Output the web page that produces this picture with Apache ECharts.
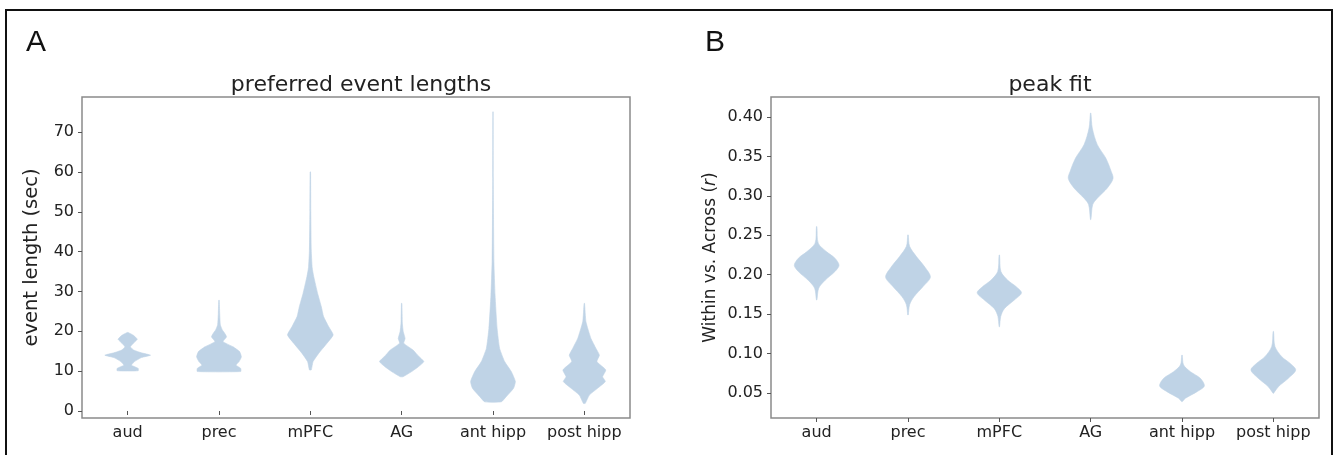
<!DOCTYPE html>
<html>
<head>
<meta charset="utf-8">
<script src="https://cdn.jsdelivr.net/npm/echarts@6/dist/echarts.min.js"></script>
<style>
  html, body { margin: 0; padding: 0; background: #fff; }
  #chart { width: 1334px; height: 455px; }
</style>
</head>
<body>
<div id="chart"></div>
<script>
// ---------- data ----------
const categories = ['aud', 'prec', 'mPFC', 'AG', 'ant hipp', 'post hipp'];

const lengthTicks = [0, 10, 20, 30, 40, 50, 60, 70];
const fitTicks = [0.05, 0.10, 0.15, 0.20, 0.25, 0.30, 0.35, 0.40];

// violin profiles: [value, relative density (1 = widest)] from top to bottom
const lenAud = [[19.7, 0.02], [19.0, 0.25], [18.0, 0.42], [17.0, 0.25], [16.1, 0.12], [15.3, 0.26],
  [14.6, 0.6], [14.0, 1.0], [13.4, 0.6], [12.4, 0.3], [11.5, 0.17], [10.7, 0.46], [10.1, 0.46]];
const lenPrec = [[27.8, 0.01], [24.5, 0.03], [21.6, 0.06], [20.3, 0.15], [19.5, 0.25], [18.6, 0.33],
  [17.4, 0.18], [16.1, 0.62], [14.9, 0.9], [13.6, 0.98], [12.4, 0.88], [11.5, 0.75], [10.7, 0.95],
  [9.9, 0.95]];
const lenMPFC = [[60.0, 0.01], [50.0, 0.02], [40.4, 0.04], [36.0, 0.08], [33.7, 0.15], [29.5, 0.32],
  [26.2, 0.48], [23.7, 0.58], [21.2, 0.8], [19.1, 1.0], [17.0, 0.73], [14.5, 0.37], [12.4, 0.12],
  [10.3, 0.04]];
const lenAG = [[27.0, 0.01], [22.0, 0.03], [19.9, 0.07], [18.2, 0.15], [17.0, 0.09], [15.3, 0.5],
  [14.0, 0.7], [12.4, 0.97], [11.1, 0.73], [9.9, 0.44], [8.6, 0.06]];
const lenAntHipp = [[75.1, 0.005], [58.4, 0.01], [37.5, 0.04], [29.1, 0.09], [20.7, 0.18],
  [15.7, 0.29], [12.4, 0.51], [9.9, 0.8], [7.4, 0.98], [5.7, 0.9], [3.6, 0.58], [2.3, 0.36]];
const lenPostHipp = [[27.0, 0.01], [22.4, 0.07], [18.2, 0.29], [15.7, 0.51], [14.0, 0.66],
  [12.4, 0.55], [10.3, 0.94], [8.6, 0.8], [7.4, 0.92], [5.7, 0.58], [4.0, 0.22], [1.9, 0.04]];

const fitAud = [[0.261, 0.01], [0.240, 0.07], [0.229, 0.44], [0.221, 0.8], [0.212, 0.98],
  [0.204, 0.8], [0.193, 0.37], [0.183, 0.09], [0.168, 0.01]];
const fitPrec = [[0.2505, 0.01], [0.236, 0.07], [0.223, 0.37], [0.210, 0.73], [0.197, 0.98],
  [0.185, 0.66], [0.172, 0.26], [0.162, 0.07], [0.149, 0.01]];
const fitMPFC = [[0.225, 0.01], [0.204, 0.07], [0.193, 0.37], [0.185, 0.73], [0.177, 0.97],
  [0.168, 0.66], [0.157, 0.22], [0.147, 0.06], [0.134, 0.01]];
const fitAG = [[0.405, 0.01], [0.386, 0.07], [0.365, 0.29], [0.348, 0.66], [0.331, 0.9],
  [0.322, 0.98], [0.310, 0.73], [0.297, 0.29], [0.289, 0.09], [0.270, 0.01]];
const fitAntHipp = [[0.098, 0.01], [0.0855, 0.07], [0.077, 0.37], [0.0687, 0.8], [0.0589, 0.98],
  [0.0517, 0.66], [0.0433, 0.15], [0.039, 0.01]];
const fitPostHipp = [[0.128, 0.01], [0.109, 0.07], [0.096, 0.37], [0.0877, 0.73], [0.0792, 0.98],
  [0.0687, 0.66], [0.058, 0.22], [0.0496, 0.01]];

const lengthViolins = [lenAud, lenPrec, lenMPFC, lenAG, lenAntHipp, lenPostHipp];
const fitViolins = [fitAud, fitPrec, fitMPFC, fitAG, fitAntHipp, fitPostHipp];

// ---------- chart ----------
const FONT = '"DejaVu Sans", sans-serif';
const violinColor = '#bfd3e6';

function violinRenderer(profiles, smooth) {
  return function (params, api) {
    const idx = api.value(0);
    const prof = profiles[idx];
    const halfW = api.size([1, 0])[0] * 0.25;
    const right = [], left = [];
    for (const [v, d] of prof) {
      const p = api.coord([idx, v]);
      right.push([p[0] + d * halfW, p[1]]);
      left.push([p[0] - d * halfW, p[1]]);
    }
    const pts = right.concat(left.reverse());
    return {
      type: 'polygon',
      shape: { points: pts, smooth: smooth },
      style: { fill: violinColor, stroke: violinColor, lineWidth: 0.6 }
    };
  };
}

const axisLabelStyle = { color: '#222', fontFamily: FONT, fontSize: 16 };
const gridBorder = '#8a8a8a';

function makeXAxis(gi) {
  return {
    type: 'category', gridIndex: gi, data: categories, boundaryGap: true,
    axisLine: { show: false },
    axisTick: { show: true, alignWithLabel: true, length: 4, lineStyle: { color: '#555' } },
    axisLabel: Object.assign({ margin: 7, interval: 0 }, axisLabelStyle),
    splitLine: { show: false }
  };
}

const option = {
  animation: false,
  backgroundColor: '#fff',
  title: [
    { text: 'preferred event lengths', left: 356, top: 69, textAlign: 'center',
      textStyle: { fontFamily: FONT, fontSize: 22, fontWeight: 'normal', color: '#222' } },
    { text: 'peak fit', left: 1045, top: 69, textAlign: 'center',
      textStyle: { fontFamily: FONT, fontSize: 22, fontWeight: 'normal', color: '#222' } }
  ],
  grid: [
    { left: 82, top: 97, width: 548, height: 321, show: true, borderColor: gridBorder, borderWidth: 1.5, backgroundColor: 'transparent' },
    { left: 771, top: 97, width: 548, height: 321, show: true, borderColor: gridBorder, borderWidth: 1.5, backgroundColor: 'transparent' }
  ],
  xAxis: [makeXAxis(0), makeXAxis(1)],
  yAxis: [
    {
      type: 'value', gridIndex: 0, min: -1.76, max: 78.8,
      name: 'event length (sec)', nameLocation: 'middle', nameGap: 40, nameRotate: 90,
      nameTextStyle: { fontFamily: FONT, fontSize: 19.5, color: '#222' },
      axisLine: { show: false },
      axisTick: { show: true, length: 4, lineStyle: { color: '#555' }, customValues: lengthTicks },
      axisLabel: Object.assign({ margin: 8, customValues: lengthTicks }, axisLabelStyle),
      splitLine: { show: false }
    },
    {
      type: 'value', gridIndex: 1, min: 0.0183, max: 0.4254,
      name: 'Within vs. Across ({i|r})', nameLocation: 'middle', nameGap: 52, nameRotate: 90,
      nameTextStyle: { fontFamily: FONT, fontSize: 17, color: '#222',
        rich: { i: { fontFamily: FONT, fontSize: 17, fontStyle: 'italic', color: '#222' } } },
      axisLine: { show: false },
      axisTick: { show: true, length: 4, lineStyle: { color: '#555' }, customValues: fitTicks },
      axisLabel: Object.assign({ margin: 8, customValues: fitTicks, formatter: v => v.toFixed(2) }, axisLabelStyle),
      splitLine: { show: false }
    }
  ],
  series: [
    { type: 'custom', xAxisIndex: 0, yAxisIndex: 0, renderItem: violinRenderer(lengthViolins, 0.15),
      data: categories.map((c, i) => [i]), encode: { x: 0 }, clip: true },
    { type: 'custom', xAxisIndex: 1, yAxisIndex: 1, renderItem: violinRenderer(fitViolins, 0.3),
      data: categories.map((c, i) => [i]), encode: { x: 0 }, clip: true }
  ],
  graphic: [
    { type: 'rect', shape: { x: 6, y: 10, width: 1326, height: 470 },
      style: { fill: 'none', stroke: '#111', lineWidth: 2 }, silent: true },
    { type: 'text', left: 26, top: 28, style: { text: 'A', font: '30px "Liberation Sans", Arial, sans-serif', fill: '#111' } },
    { type: 'text', left: 705, top: 28, style: { text: 'B', font: '30px "Liberation Sans", Arial, sans-serif', fill: '#111' } }
  ]
};

const chart = echarts.init(document.getElementById('chart'), null, { renderer: 'canvas' });
chart.setOption(option);
</script>
</body>
</html>
